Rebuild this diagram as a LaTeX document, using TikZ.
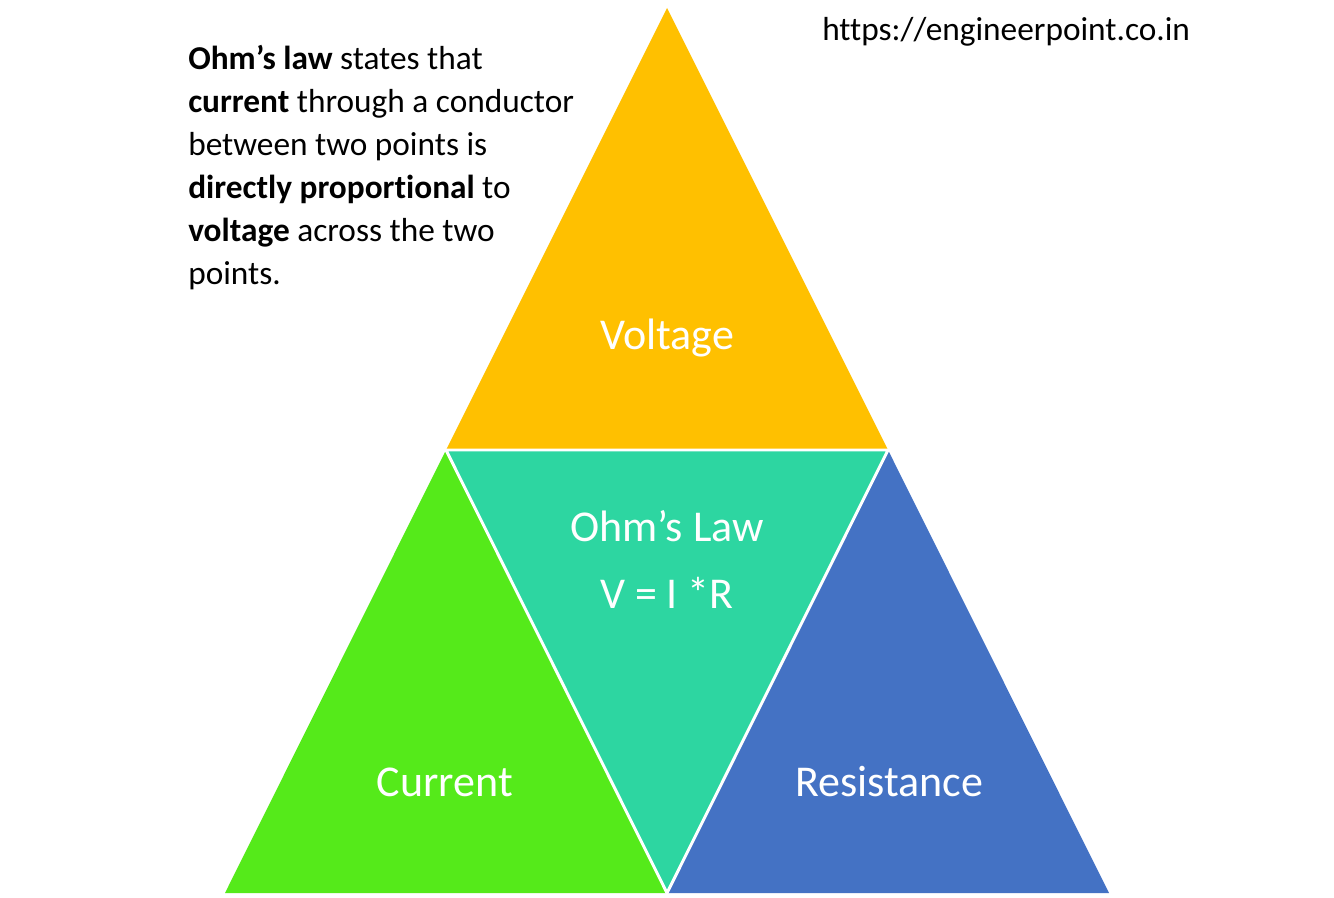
\documentclass[tikz,border=0pt]{standalone}
\usepackage{fontspec}
\setmainfont{Carlito}[Ligatures=NoCommon]
\usetikzlibrary{positioning,calc}
\definecolor{VoltYellow}{HTML}{FFC000}
\definecolor{CurrGreen}{HTML}{55EA1A}
\definecolor{LawTeal}{HTML}{2DD6A1}
\definecolor{ResBlue}{HTML}{4472C4}

\begin{document}
\begin{tikzpicture}[
    x=0.75pt, y=-0.75pt,
    part/.style={draw=white, line width=2.2pt, line join=miter},
    tag/.style={text=white, font=\fontsize{33}{40}\selectfont},
    note/.style={anchor=north west, align=left, inner sep=0pt, font=\fontsize{25}{32.3}\selectfont}
  ]
    \useasboundingbox (0,0) rectangle (1334,898);
    \fill[white] (0,0) rectangle (1334,898);

    \coordinate (top) at (667, 8);
    \coordinate (bl) at (225, 893);
    \coordinate (br) at (1109, 893);
    \coordinate (ml) at (446, 450);
    \coordinate (mr) at (888, 450);
    \coordinate (mb) at (667, 893);

    \fill[VoltYellow] (top) -- (ml) -- (mr) -- cycle;
    \fill[CurrGreen] (ml) -- (bl) -- (mb) -- cycle;
    \fill[ResBlue] (mr) -- (mb) -- (br) -- cycle;
    \filldraw[part, fill=LawTeal] (ml) -- (mr) -- (mb) -- cycle;

    \node[tag] (volt) at (667, 338) {Voltage};
    \node[tag] (curr) at (445, 782) {Current};
    \node[tag] (res) at (889, 782) {Resistance};
    \node[tag] (law) at (667, 526) {Ohm’s Law};
    \node[tag] (eqn) at (667, 593) {V = I *R};

    \node[note] (url) at (822, 17) {https://engineerpoint.co.in};
    \node[note] (def) at (188, 45) {\textbf{Ohm’s law} states that\\
      \textbf{current} through a conductor\\
      between two points is\\
      \textbf{directly proportional} to\\
      \textbf{voltage} across the two\\
      points.};
  \end{tikzpicture}
\end{document}
